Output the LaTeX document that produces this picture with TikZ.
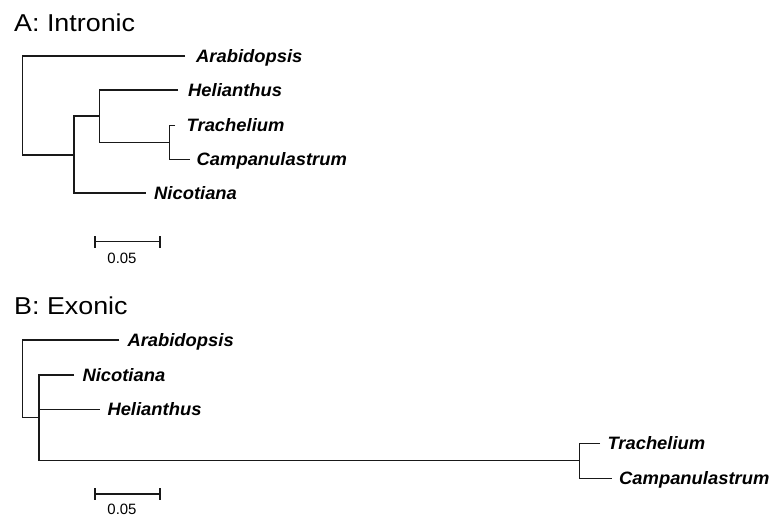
\documentclass[tikz,border=0pt]{standalone}
\usepackage{fontspec}
\setmainfont{Liberation Sans}
\begin{document}
\begin{tikzpicture}[x=1bp,y=-1bp,
  branch/.style={line width=1.1bp, black!90},
  taxon/.style={anchor=base west, inner sep=0pt, xscale=1.025, transform shape, font=\fontsize{18}{20}\selectfont\bfseries\itshape},
  title/.style={anchor=base west, inner sep=0pt, xscale=1.1, transform shape, font=\fontsize{24.5}{28}\selectfont},
  scalelbl/.style={anchor=base, inner sep=0pt, font=\fontsize{15}{17}\selectfont}]
\useasboundingbox (0,0) rectangle (772,516);

% ---------- A: Intronic ----------
\node[title] (tA) at (14,32) {A: Intronic};
\coordinate (A-r)  at (22.7,105);
\coordinate (A-n2) at (74,155);
\coordinate (A-n3) at (99.3,116);
\coordinate (A-n4) at (169.3,142.7);
\coordinate (A-tArab) at (185,56);
\coordinate (A-tHeli) at (178,90);
\coordinate (A-tTrach) at (175,125.3);
\coordinate (A-tCamp) at (190,159.3);
\coordinate (A-tNico) at (146,193);

\draw[branch] (A-tArab) -| (A-r) |- (A-n2);
\draw[branch] (A-n3) -| (A-n2) |- (A-tNico);
\draw[branch] (A-tHeli) -| (A-n3) |- (A-n4);
\draw[branch] (A-tTrach) -| (A-n4) |- (A-tCamp);

\node[taxon] (A-arab)  at (196,62.4)   {Arabidopsis};
\node[taxon] (A-heli)  at (188,96.4)   {Helianthus};
\node[taxon] (A-trach) at (186.5,131.7) {Trachelium};
\node[taxon] (A-camp)  at (196.5,165.7) {Campanulastrum};
\node[taxon] (A-nico)  at (154,199.4)  {Nicotiana};

\coordinate (A-s1) at (95,241.7);
\coordinate (A-s2) at (160,241.7);
\draw[branch] (A-s1) -- (A-s2);
\draw[branch] ([yshift=-6]A-s1) -- ([yshift=6]A-s1);
\draw[branch] ([yshift=-6]A-s2) -- ([yshift=6]A-s2);
\node[scalelbl] (A-sl) at (122,263.3) {0.05};

% ---------- B: Exonic ----------
\node[title] (tB) at (14,314) {B: Exonic};
\coordinate (B-r)  at (22.7,380);
\coordinate (B-n2) at (39,417.7);
\coordinate (B-n3) at (579.3,460.7);
\coordinate (B-tArab) at (119.3,340);
\coordinate (B-tNico) at (74,375);
\coordinate (B-tHeli) at (100,409.3);
\coordinate (B-tTrach) at (600,443.3);
\coordinate (B-tCamp) at (611.7,478.3);

\draw[branch] (B-tArab) -| (B-r) |- (B-n2);
\draw[branch] (B-tNico) -| (B-n2) |- (B-n3);
\draw[branch] (B-n2 |- B-tHeli) -- (B-tHeli);
\draw[branch] (B-tTrach) -| (B-n3) |- (B-tCamp);

\node[taxon] (B-arab)  at (127.3,346.4) {Arabidopsis};
\node[taxon] (B-nico)  at (82.3,381.4)  {Nicotiana};
\node[taxon] (B-heli)  at (107.3,415.7) {Helianthus};
\node[taxon] (B-trach) at (607.3,449.7) {Trachelium};
\node[taxon] (B-camp)  at (619,484.7)   {Campanulastrum};

\coordinate (B-s1) at (95,494);
\coordinate (B-s2) at (160,494);
\draw[branch] (B-s1) -- (B-s2);
\draw[branch] ([yshift=-6]B-s1) -- ([yshift=6]B-s1);
\draw[branch] ([yshift=-6]B-s2) -- ([yshift=6]B-s2);
\node[scalelbl] (B-sl) at (122,514.5) {0.05};
\end{tikzpicture}
\end{document}
